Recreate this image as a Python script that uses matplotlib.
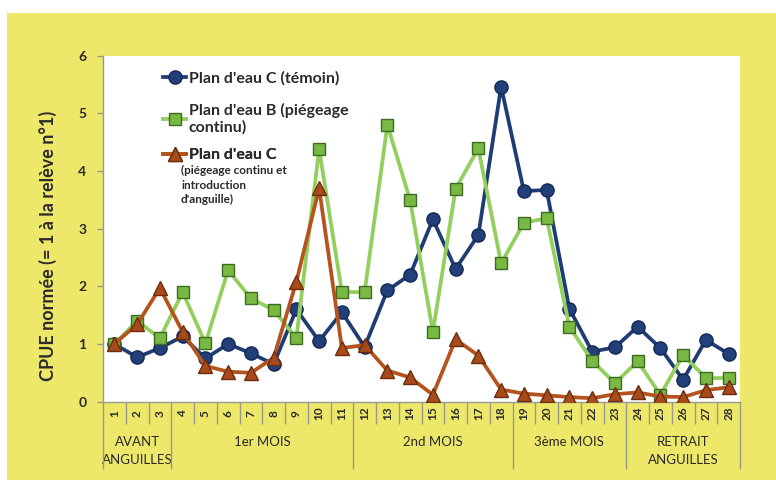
import matplotlib
matplotlib.use("Agg")
import matplotlib.pyplot as plt
from matplotlib.patches import Rectangle

# ---------------- data ----------------
releves = list(range(1, 29))
temoin_C = [1.00, 0.77, 0.93, 1.13, 0.75, 1.00, 0.84, 0.65, 1.60, 1.05,
            1.55, 0.95, 1.93, 2.20, 3.16, 2.30, 2.89, 5.46, 3.65, 3.67,
            1.61, 0.87, 0.94, 1.30, 0.93, 0.38, 1.07, 0.83]
piegeage_B = [1.00, 1.40, 1.10, 1.90, 1.01, 2.28, 1.79, 1.59, 1.10, 4.38,
              1.90, 1.90, 4.80, 3.49, 1.21, 3.69, 4.39, 2.40, 3.10, 3.18,
              1.30, 0.71, 0.32, 0.70, 0.12, 0.81, 0.41, 0.41]
introduction_C = [1.00, 1.34, 1.97, 1.21, 0.62, 0.52, 0.50, 0.76, 2.08, 3.70,
                  0.93, 0.98, 0.54, 0.42, 0.12, 1.08, 0.80, 0.21, 0.14, 0.11,
                  0.08, 0.06, 0.13, 0.16, 0.09, 0.08, 0.20, 0.25]
groupes = ["AVANT\nANGUILLES", "1er MOIS", "2nd MOIS", "3ème MOIS", "RETRAIT\nANGUILLES"]
groupe_bornes = [0.5, 3.5, 11.5, 18.5, 23.5, 28.5]
yticks = [0, 1, 2, 3, 4, 5, 6]
label_A = "Plan d'eau C (témoin)"
label_B = "Plan d'eau B (piégeage\ncontinu)"
label_C = "Plan d'eau C"
label_C_sub = "(piégeage continu et\nintroduction\nd'anguille)"
ylabel = "CPUE normée (= 1 à la relève n°1)"

FONT = ["Lato", "DejaVu Sans"]
plt.rcParams["font.family"] = FONT
TXT = "#2a2a2a"
GRAY = "#9a9a8c"
YELLOW = "#EEE86A"

fig = plt.figure(figsize=(7.76, 4.8), dpi=100)
fig.patch.set_facecolor("white")
fig.add_artist(Rectangle((7 / 776, 0), 1, (480 - 13) / 480, transform=fig.transFigure,
                         facecolor=YELLOW, edgecolor="none", zorder=-10))

ax = fig.add_axes([103 / 776, 78.3 / 480, 637 / 776, 346.2 / 480])
ax.set_facecolor("white")

# series
blue = "#1F3C74"
green_l = "#92CF5C"
green_f = "#78B944"
green_e = "#3E6B22"
orange = "#B4531E"
orange_f = "#A84B1B"
orange_e = "#6E2C0E"

lA, = ax.plot(releves, temoin_C, color=blue, lw=2.7, marker="o", ms=9.5,
              mfc="#223F7A", mec="#132a55", mew=1.0, zorder=3)
lB, = ax.plot(releves, piegeage_B, color=green_l, lw=2.7, marker="s", ms=8,
              mfc=green_f, mec=green_e, mew=1.0, zorder=4)
lC, = ax.plot(releves, introduction_C, color=orange, lw=2.7, marker="^", ms=9.5,
              mfc=orange_f, mec=orange_e, mew=1.0, zorder=5)

ax.set_xlim(0.5, 28.5)
ax.set_ylim(0, 6)
ax.set_yticks(yticks)
ax.set_yticklabels([str(v) for v in yticks], fontsize=10, fontweight="bold", color=TXT)
ax.tick_params(axis="y", length=4, width=1, color=GRAY, pad=8)

for s in ["top", "right"]:
    ax.spines[s].set_visible(False)
for s in ["left", "bottom"]:
    ax.spines[s].set_color(GRAY)
    ax.spines[s].set_linewidth(1.0)

# category axis structure: group borders (long) and category borders (short)
ax.set_xticks(groupe_bornes)
ax.set_xticklabels([])
ax.set_xticks([r + 0.5 for r in [0] + releves], minor=True)
ax.tick_params(axis="x", which="major", length=48, width=1, color=GRAY)
ax.tick_params(axis="x", which="minor", length=16, width=1, color=GRAY)

# numbers
sec1 = ax.secondary_xaxis("bottom")
sec1.set_xticks(releves)
sec1.set_xticklabels([str(r) for r in releves], rotation=90, fontsize=8.5,
                     fontweight="bold", color=TXT)
for t in sec1.get_xticklabels():
    t.set_va("center")
sec1.tick_params(length=0, pad=8.5)
sec1.spines["bottom"].set_visible(False)

# groups
centres = [(groupe_bornes[i] + groupe_bornes[i + 1]) / 2 for i in range(len(groupes))]
sec2 = ax.secondary_xaxis("bottom")
sec2.set_xticks(centres)
sec2.set_xticklabels(groupes, fontsize=9.5, color=TXT, linespacing=1.6)
sec2.tick_params(length=0, pad=24.5)
sec2.spines["bottom"].set_visible(False)

ax.set_ylabel(ylabel, fontsize=13, fontweight="bold", color=TXT)
ax.yaxis.set_label_coords(-0.072, 0.45)

# legend (three single-entry legends for exact placement)
leg_kw = dict(frameon=False, borderpad=0, handlelength=1.45, handletextpad=0.15,
              loc="center left", prop={"family": FONT, "size": 11.5, "weight": "bold"},
              labelcolor=TXT)
x0 = (155 - 103) / 637
def ya(py):
    return (401.7 - py) / 346.2
legA = ax.legend([lA], [label_A], bbox_to_anchor=(x0, ya(78)), **leg_kw)
ax.add_artist(legA)
legB = ax.legend([lB], [label_B], bbox_to_anchor=(x0, ya(119)), **leg_kw)
for t in legB.get_texts():
    t.set_linespacing(1.2)
ax.add_artist(legB)
legC = ax.legend([lC], [label_C], bbox_to_anchor=(x0, ya(155)), **leg_kw)
ax.add_artist(legC)
ax.text((181 - 103) / 637, ya(165), label_C_sub, transform=ax.transAxes,
        fontsize=8.5, fontweight="bold", color=TXT, va="top", ha="left", linespacing=1.4)

fig.savefig("out.png", dpi=100, facecolor=fig.get_facecolor())
